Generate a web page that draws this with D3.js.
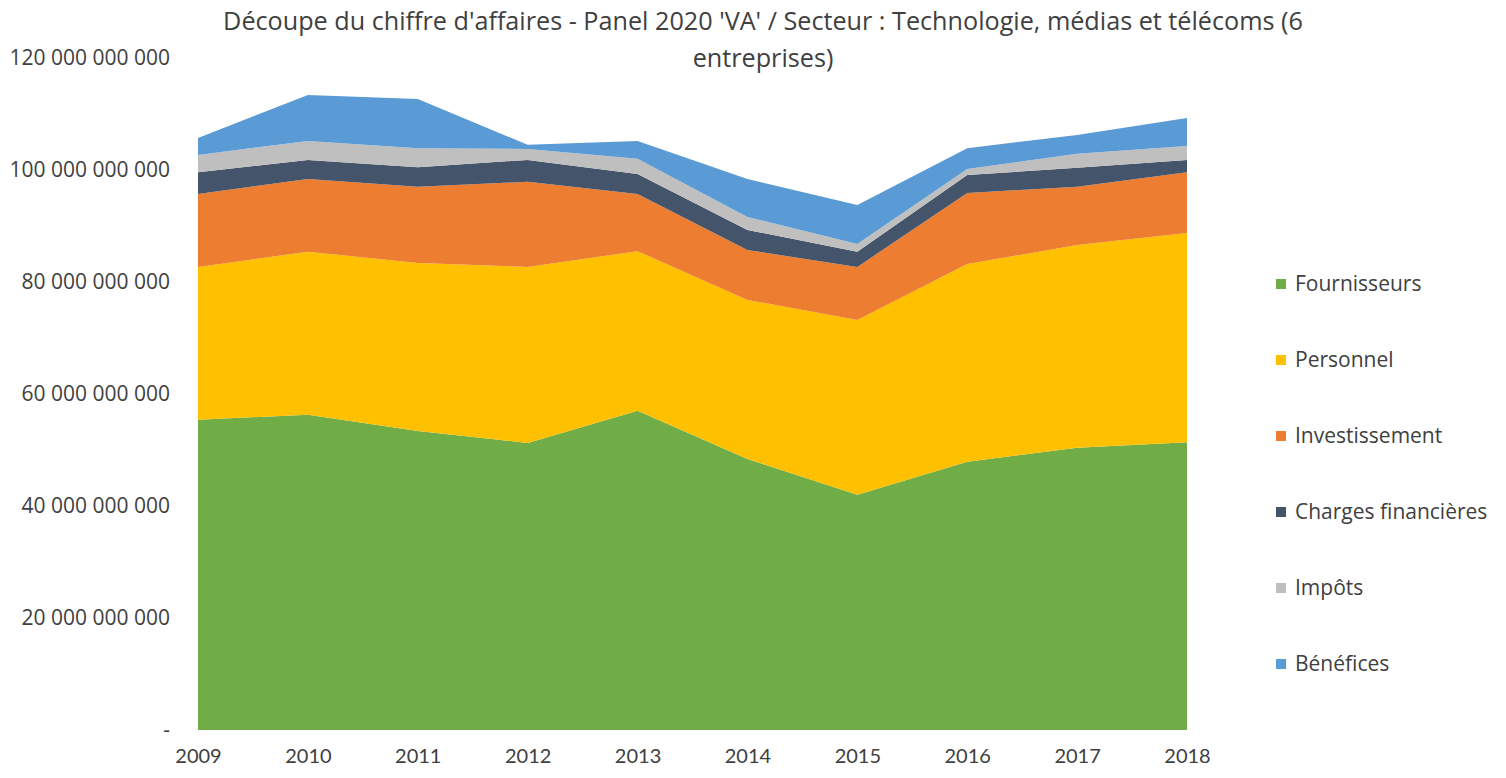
<!DOCTYPE html>
<html><head><meta charset="utf-8">
<script src="https://cdn.jsdelivr.net/npm/d3@7"></script>
<style>
body{margin:0;background:#fff;}
text{font-family:"Open Sans",Lato,sans-serif;}
</style></head>
<body><svg id="c" width="1506" height="778"></svg>
<script>
const years = ["2009","2010","2011","2012","2013","2014","2015","2016","2017","2018"];
const seriesNames = ["Fournisseurs","Personnel","Investissement","Charges financières","Impôts","Bénéfices"];
const colors = ["#70AD47","#FFC000","#ED7D31","#44546A","#BFBFBF","#5B9BD5"];
// values in billions
const fournisseurs = [55.4,56.3,53.4,51.25,57.0,48.4,42.0,47.9,50.4,51.4];
const personnel = [27.3,29.1,30.0,31.45,28.5,28.4,31.2,35.3,36.2,37.35];
const investissement = [13.0,13.0,13.6,15.2,10.2,8.9,9.5,12.7,10.4,10.85];
const charges = [3.9,3.4,3.5,3.9,3.6,3.6,2.7,3.2,3.4,2.2];
const impots = [3.1,3.4,3.4,1.95,2.7,2.3,1.4,1.1,2.5,2.5];
const benefices = [3.0,8.2,8.8,0.75,3.2,6.8,6.95,3.7,3.35,5.0];
const yTicks = [0,20,40,60,80,100,120];
const yTickLabels = ["-","20 000 000 000","40 000 000 000","60 000 000 000","80 000 000 000","100 000 000 000","120 000 000 000"];
const title1 = "Découpe du chiffre d'affaires - Panel 2020 'VA' / Secteur : Technologie, médias et télécoms (6";
const title2 = "entreprises)";

const allSeries = [fournisseurs,personnel,investissement,charges,impots,benefices];
const data = years.map((y,i)=>{const o={year:y}; seriesNames.forEach((n,k)=>o[n]=allSeries[k][i]*1e9); return o;});

const svg = d3.select("#c");
const x = d3.scalePoint().domain(years).range([198,1187]);
const y = d3.scaleLinear().domain([0,120e9]).range([730,58]);

const stack = d3.stack().keys(seriesNames);
const stacked = stack(data);
const area = d3.area().x(d=>x(d.data.year)).y0(d=>y(d[0])).y1(d=>y(d[1]));

svg.append("g").selectAll("path").data(stacked).join("path")
  .attr("d",area).attr("fill",(d,i)=>colors[i]);

// Y axis
const yAxis = d3.axisLeft(y).tickValues(yTicks.map(v=>v*1e9))
  .tickFormat((d,i)=>yTickLabels[i]).tickSize(0).tickPadding(0);
const gy = svg.append("g").attr("transform","translate(170,0)").call(yAxis);
gy.select(".domain").remove();
gy.selectAll("text").attr("font-size",21).attr("fill","#404040").style("font-family","'Open Sans',sans-serif");

// X axis
const xAxis = d3.axisBottom(x).tickSize(0).tickPadding(0);
const gx = svg.append("g").attr("transform","translate(0,749)").call(xAxis);
gx.select(".domain").remove();
gx.selectAll("text").attr("font-size",20).attr("fill","#404040").attr("dy","0.7em").style("font-family","Lato,sans-serif");

// Title
svg.append("text").attr("x",763).attr("y",30).attr("text-anchor","middle")
  .attr("font-size",25.2).attr("fill","#404040").text(title1);
svg.append("text").attr("x",763).attr("y",67).attr("text-anchor","middle")
  .attr("font-size",25.2).attr("fill","#404040").text(title2);

// Legend
const lg = svg.append("g");
seriesNames.forEach((n,i)=>{
  const yy = 284 + i*76;
  lg.append("rect").attr("x",1276).attr("y",yy-5).attr("width",10).attr("height",10).attr("fill",colors[i]);
  lg.append("text").attr("x",1295).attr("y",yy).attr("dy","0.35em").attr("font-size",21).attr("fill","#404040").text(n);
});
</script></body></html>
